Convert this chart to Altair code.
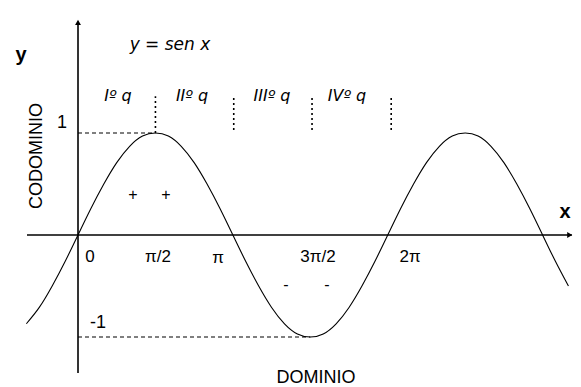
import altair as alt
import pandas as pd

# ---- data ----
# curve samples: angle in degrees, value of y = sen x
curve_deg = [-60, -45, -30, -15, 0, 15, 30, 45, 60, 75, 90, 105, 120, 135, 150, 165,
             180, 195, 210, 225, 240, 255, 270, 285, 300, 315, 330, 345, 360, 375,
             390, 405, 420, 435, 450, 465, 480, 495, 510, 525, 540, 555, 570]
curve_val = [-0.87, -0.71, -0.5, -0.26, 0, 0.26, 0.5, 0.71, 0.87, 0.97, 1, 0.97, 0.87,
             0.71, 0.5, 0.26, 0, -0.26, -0.5, -0.71, -0.87, -0.97, -1, -0.97, -0.87,
             -0.71, -0.5, -0.26, 0, 0.26, 0.5, 0.71, 0.87, 0.97, 1, 0.97, 0.87, 0.71,
             0.5, 0.26, 0, -0.26, -0.5]

# tick labels on the x axis
xtick_text = ["0", "π/2", "π", "3π/2", "2π"]
xtick_pos = [13.9, 93, 162.7, 278.9, 385.9]
xtick_val = [-0.216, -0.216, -0.225, -0.216, -0.216]

# tick labels on the y axis
ytick_text = ["1", "-1"]
ytick_pos = [-18.6, 23.2]
ytick_val = [1.098, -0.863]

# quadrant labels
quad_text = ["Iº q", "IIº q", "IIIº q", "IVº q"]
quad_pos = [46.5, 132.5, 225.5, 312.6]
quad_val = [1.363, 1.363, 1.363, 1.363]

# quadrant separators (dotted)
sep_pos = [90, 181, 272, 364]
sep_low = [1.0, 1.03, 1.03, 1.03]
sep_high = [1.36, 1.36, 1.36, 1.36]

# sign marks
sign_text = ["+", "+", "-", "-"]
sign_pos = [63.9, 102.3, 241.7, 289.4]
sign_val = [0.392, 0.392, -0.49, -0.49]

# guide lines (dashed) to the extremes
guide_x1 = [0, 0]
guide_x2 = [90, 270]
guide_y = [1, -1]

# axes lines
axis_x1 = [-59.3, 0]
axis_x2 = [574, 0]
axis_y1 = [0, -1.353]
axis_y2 = [0, 2.09]

XS = alt.Scale(domain=[-81.36, 575.3], nice=False, zero=False)
YS = alt.Scale(domain=[-1.49, 2.2255], nice=False, zero=False)


def X(f):
    return alt.X(f, type="quantitative", scale=XS, axis=None)


def Y(f):
    return alt.Y(f, type="quantitative", scale=YS, axis=None)


curve_df = pd.DataFrame({"x": curve_deg, "y": curve_val})
curve = alt.Chart(curve_df).mark_line(
    color="#000000", strokeWidth=1.1, interpolate="natural"
).encode(x=X("x"), y=Y("y"))

axes_df = pd.DataFrame({"x": axis_x1, "x2": axis_x2, "y": axis_y1, "y2": axis_y2})
axes = alt.Chart(axes_df).mark_rule(color="#000000", strokeWidth=1.6).encode(
    x=X("x"), x2="x2", y=Y("y"), y2="y2"
)

arrow_df = pd.DataFrame({"x": [571.5, 0], "y": [0, 2.085],
                         "shape": ["triangle-right", "triangle-up"]})
arrows = alt.Chart(arrow_df).mark_point(
    filled=True, color="#000000", size=35, opacity=1
).encode(x=X("x"), y=Y("y"), shape=alt.Shape("shape:N", scale=None, legend=None))

guide_df = pd.DataFrame({"x": guide_x1, "x2": guide_x2, "y": guide_y})
guides = alt.Chart(guide_df).mark_rule(
    color="#000000", strokeWidth=1.2, strokeDash=[4, 3]
).encode(x=X("x"), x2="x2", y=Y("y"))

sep_df = pd.DataFrame({"x": sep_pos, "y": sep_low, "y2": sep_high})
seps = alt.Chart(sep_df).mark_rule(
    color="#000000", strokeWidth=1.6, strokeDash=[2, 3]
).encode(x=X("x"), y=Y("y"), y2="y2")

xt_df = pd.DataFrame({"x": xtick_pos, "y": xtick_val, "t": xtick_text})
xticks = alt.Chart(xt_df).mark_text(
    font="Liberation Sans", fontSize=17, color="#000000", baseline="middle", align="center"
).encode(x=X("x"), y=Y("y"), text="t:N")

yt_df = pd.DataFrame({"x": ytick_pos, "y": ytick_val, "t": ytick_text})
yticks = alt.Chart(yt_df).mark_text(
    font="Liberation Sans", fontSize=18, color="#000000", baseline="middle", align="center"
).encode(x=X("x"), y=Y("y"), text="t:N")

q_df = pd.DataFrame({"x": quad_pos, "y": quad_val, "t": quad_text})
quads = alt.Chart(q_df).mark_text(
    font="DejaVu Sans", fontStyle="italic", fontSize=16, color="#000000",
    baseline="middle", align="center"
).encode(x=X("x"), y=Y("y"), text="t:N")

s_df = pd.DataFrame({"x": sign_pos, "y": sign_val, "t": sign_text})
signs = alt.Chart(s_df).mark_text(
    font="Liberation Sans", fontSize=16, color="#000000", baseline="middle", align="center"
).encode(x=X("x"), y=Y("y"), text="t:N")

title_df = pd.DataFrame({"x": [106.9], "y": [1.863], "t": ["y = sen x"]})
title = alt.Chart(title_df).mark_text(
    font="DejaVu Sans", fontStyle="italic", fontSize=17, color="#000000",
    baseline="middle", align="center"
).encode(x=X("x"), y=Y("y"), text="t:N")

ax_lab_df = pd.DataFrame({"x": [-66.2, 566], "y": [1.765, 0.225], "t": ["y", "x"]})
ax_labels = alt.Chart(ax_lab_df).mark_text(
    font="Liberation Sans", fontWeight="bold", fontSize=20, color="#000000",
    baseline="middle", align="center"
).encode(x=X("x"), y=Y("y"), text="t:N")

dom_df = pd.DataFrame({"x": [276.6], "y": [-1.402], "t": ["DOMINIO"]})
dom = alt.Chart(dom_df).mark_text(
    font="Liberation Sans", fontSize=18, color="#000000", baseline="middle", align="center"
).encode(x=X("x"), y=Y("y"), text="t:N")

cod_df = pd.DataFrame({"x": [-48.2], "y": [0.775], "t": ["CODOMINIO"]})
cod = alt.Chart(cod_df).mark_text(
    font="Liberation Sans", fontSize=18, color="#000000", baseline="middle",
    align="center", angle=270
).encode(x=X("x"), y=Y("y"), text="t:N")

chart = alt.layer(
    guides, seps, axes, arrows, curve, xticks, yticks, quads, signs, title,
    ax_labels, dom, cod
).properties(
    width=565, height=379,
    autosize=alt.AutoSizeParams(type="none"),
    padding=0,
    background="white",
).configure_view(stroke=None)

chart.save("out.html", embed_options={"renderer": "svg", "actions": False})
